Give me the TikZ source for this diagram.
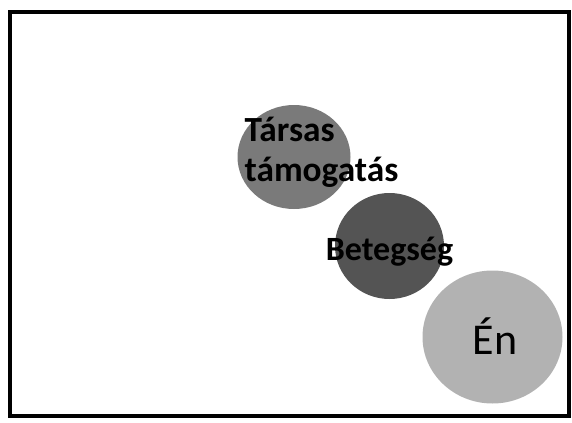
\documentclass[tikz,border=0pt]{standalone}
\usepackage{fontspec}
\setmainfont{Carlito}
\usetikzlibrary{shapes.geometric}
\definecolor{tarsfill}{gray}{0.48}
\definecolor{betegfill}{gray}{0.33}
\definecolor{enfill}{gray}{0.70}

\begin{document}
\begin{tikzpicture}[x=0.75pt, y=-0.75pt,
    blob/.style={ellipse, inner sep=0pt},
    lbl/.style={font=\bfseries\fontsize{26.5}{30}\selectfont, align=left, inner sep=0pt}]

   \useasboundingbox (0,0) rectangle (572,422);
   \draw[line width=3.4pt] (10,12) rectangle (569,416);

   \foreach \x/\y/\w/\h/\c/\n in {294/157/84.75/78/tarsfill/tars, 389.5/246/81.75/79.5/betegfill/beteg, 492.5/337/105/99.75/enfill/en}
     \node [blob, fill=\c, minimum width=\w pt, minimum height=\h pt]
        (\n) at (\x,\y) {};

   \node [lbl] (tarsText) at (321.5,152) {Társas\\támogatás};
   \node [lbl, anchor=base, font=\bfseries\fontsize{25.5}{30}\selectfont] (betegText) at (389.5,260) {Betegség};
   \node [inner sep=0pt, anchor=base, font=\fontsize{33}{40}\selectfont] (enText) at (495,354) {Én};

\end{tikzpicture}
\end{document}
